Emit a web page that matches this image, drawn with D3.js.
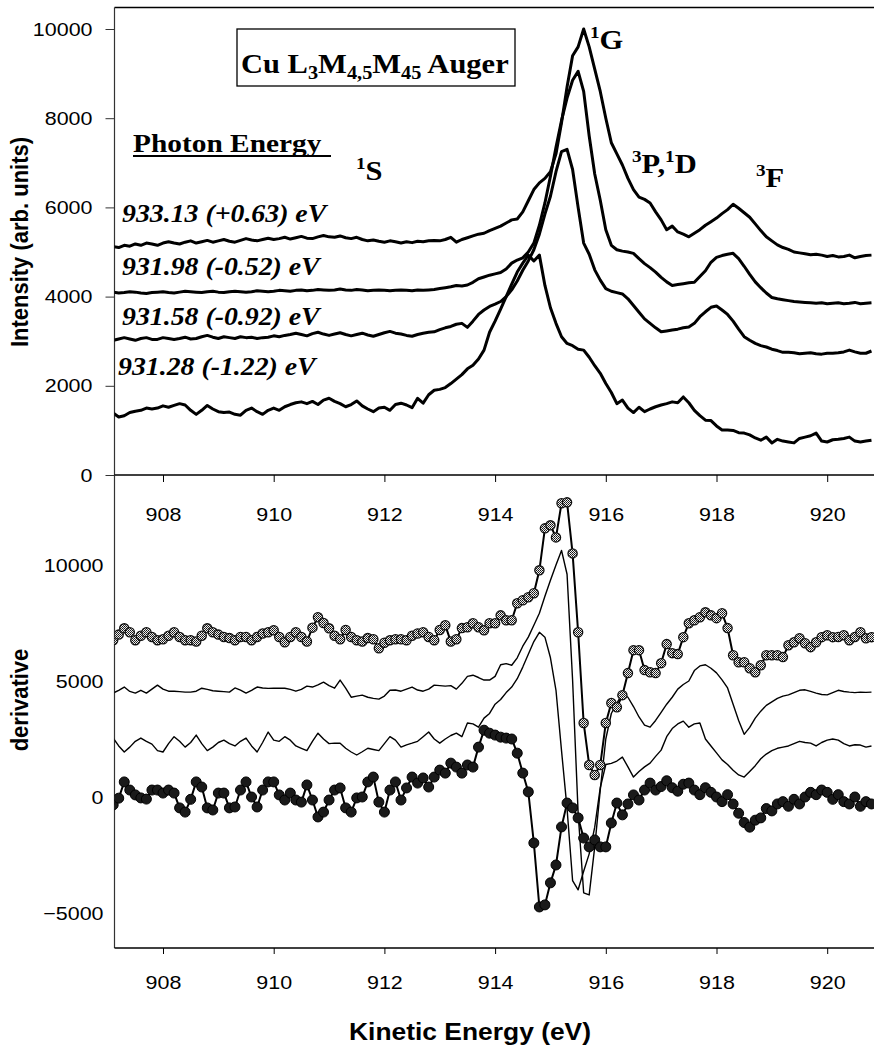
<!DOCTYPE html>
<html><head><meta charset="utf-8">
<script src="https://cdn.jsdelivr.net/npm/d3@7/dist/d3.min.js"></script>
<style>body{margin:0;background:#fff}svg{display:block}</style>
</head><body>
<svg id="c" width="874" height="1059"></svg>
<script>
// ---------- DATA ----------
const energyStart = 907.1, energyStep = 0.1, nPoints = 138;   // kinetic energy grid (eV)
const energy = d3.range(nPoints).map(i => +(energyStart + i * energyStep).toFixed(1));
const xTicks = [908, 910, 912, 914, 916, 918, 920];
const topYTicks = [0, 2000, 4000, 6000, 8000, 10000];
const botYTicks = [-5000, 0, 5000, 10000];
const photonLabels = ["933.13 (+0.63) eV", "931.98 (-0.52) eV", "931.58 (-0.92) eV", "931.28 (-1.22) eV"];

// Auger intensity spectra (top panel)
const int933_13 = [
5120,5100,5150,5130,5180,5150,5200,5180,5150,5200,
5230,5200,5180,5220,5250,5200,5230,5260,5220,5250,
5280,5240,5220,5260,5300,5270,5250,5280,5310,5280,
5300,5330,5290,5320,5350,5310,5300,5340,5370,5340,
5330,5360,5320,5300,5330,5280,5250,5270,5240,5220,
5250,5230,5200,5230,5210,5240,5230,5250,5260,5250,
5280,5330,5220,5280,5320,5360,5400,5420,5480,5530,
5580,5650,5720,5740,5900,6150,6400,6550,6650,6800,
7200,7900,8700,9400,9600,10000,9600,9100,8600,8000,
7450,7200,6950,6650,6400,6230,6180,6100,5900,5720,
5500,5580,5450,5400,5340,5420,5500,5600,5680,5760,
5860,5950,6070,5980,5880,5780,5630,5480,5340,5250,
5160,5100,5060,5000,4980,4960,4940,4950,4930,4900,
4920,4890,4900,4930,4870,4900,4920,4930];
const int931_98 = [
4100,4080,4090,4110,4100,4080,4070,4090,4100,4110,
4090,4080,4100,4120,4110,4100,4090,4110,4120,4100,
4090,4110,4120,4110,4100,4110,4130,4120,4110,4120,
4140,4130,4120,4140,4150,4130,4140,4160,4150,4140,
4150,4170,4150,4140,4160,4150,4130,4140,4150,4140,
4130,4140,4150,4140,4130,4150,4140,4150,4160,4180,
4200,4220,4250,4240,4260,4320,4400,4440,4480,4510,
4540,4620,4750,4820,4870,5000,5200,5600,6100,6700,
7350,7950,8450,8850,9050,8600,7600,6750,6160,5500,
5150,5050,5020,5000,4970,4850,4740,4650,4550,4430,
4330,4250,4270,4290,4310,4320,4450,4580,4770,4880,
4920,4950,4970,4850,4680,4500,4330,4200,4080,3980,
3950,3930,3910,3890,3880,3870,3860,3850,3860,3840,
3850,3860,3840,3850,3870,3840,3850,3860];
const int931_58 = [
3020,3050,3080,3050,3020,3060,3080,3040,3040,3080,
3060,3040,3060,3090,3050,3060,3100,3130,3090,3060,
3100,3080,3060,3100,3080,3090,3060,3080,3090,3120,
3100,3130,3150,3180,3150,3120,3170,3200,3160,3130,
3160,3190,3150,3120,3150,3180,3140,3110,3150,3190,
3220,3180,3160,3130,3110,3150,3180,3200,3210,3260,
3300,3330,3380,3400,3310,3450,3600,3700,3780,3830,
3890,4000,4150,4350,4590,4800,5050,5400,5850,6250,
6800,7250,7300,6850,6000,5200,4950,4600,4370,4180,
4120,4090,4060,3950,3800,3650,3500,3400,3300,3210,
3230,3250,3270,3300,3320,3400,3550,3660,3760,3790,
3700,3600,3450,3270,3100,3020,2950,2900,2870,2820,
2790,2750,2750,2740,2720,2730,2740,2720,2710,2730,
2730,2740,2760,2800,2760,2730,2730,2780];
const int931_28 = [
1390,1300,1330,1400,1430,1450,1500,1480,1500,1550,
1520,1560,1600,1570,1450,1360,1450,1560,1480,1420,
1400,1410,1360,1340,1450,1500,1420,1360,1450,1500,
1450,1530,1580,1620,1640,1600,1650,1580,1680,1720,
1650,1600,1530,1580,1660,1550,1480,1420,1500,1520,
1450,1580,1610,1570,1510,1720,1610,1800,1900,1920,
1960,2050,2150,2250,2380,2460,2600,2800,3200,3450,
3720,4000,4280,4550,4750,4930,4800,4930,4250,3750,
3400,3100,2950,2900,2820,2800,2640,2450,2280,2050,
1850,1600,1680,1500,1400,1520,1420,1480,1530,1570,
1600,1640,1620,1750,1620,1450,1330,1230,1220,1100,
1010,1010,1000,950,940,900,830,780,850,720,
800,760,740,720,820,850,880,940,760,740,
790,800,820,850,760,740,760,780];

// Derivative spectra (bottom panel)
const der933_13 = [
6760,7000,7270,7100,6760,6950,7100,6900,6760,6800,
6950,7100,6900,6760,6760,6700,6950,7270,7100,7000,
6900,6850,6760,6900,6900,6760,6900,7050,7100,7190,
6900,6670,6900,7100,6900,6700,7300,7750,7500,7270,
6950,6800,7200,6900,6760,6700,6850,6800,6410,6650,
6760,6800,6800,6760,6950,7050,7100,6900,6760,7200,
7400,6700,6800,7280,7320,7490,7320,7190,7490,7490,
7830,7620,7620,8350,8480,8610,8780,9770,11580,11710,
11190,12660,12700,10500,7100,3190,1380,950,1380,3190,
4050,3870,4390,5340,6330,6330,5470,5380,5340,5770,
6590,6200,6160,6890,7490,7620,7750,7960,7830,7710,
7920,7280,6110,5810,5810,5550,5380,5680,6110,6110,
6110,6030,6540,6670,6840,6630,6460,6670,6890,6970,
6890,6900,6970,6760,6900,7100,6840,6890];
const der931_98 = [
4480,4600,4740,4550,4480,4600,4480,4650,4820,4650,
4560,4560,4540,4520,4520,4560,4690,4640,4580,4560,
4540,4520,4700,4610,4480,4600,4740,4700,4680,4690,
4690,4690,4640,4560,4640,4780,4740,4830,4950,4800,
4690,5040,4690,4300,4350,4390,4300,4250,4220,4350,
4600,4610,4560,4650,4740,4610,4560,4650,4820,4800,
4780,4800,4650,4900,5200,5250,5150,5040,5040,5200,
5700,5750,5680,6000,6500,6890,7400,7920,8650,9340,
10000,10630,9600,5040,-690,-4130,-4220,-2150,300,2500,
3600,4050,4450,4300,3900,3450,3100,3010,3300,3650,
4000,4300,4650,4850,5000,5450,5650,5700,5550,5350,
5050,4700,4000,3300,2700,3000,3400,3700,3950,4100,
4250,4350,4400,4500,4600,4620,4550,4480,4420,4400,
4500,4600,4550,4520,4500,4520,4510,4520];
const der931_58 = [
2540,2200,1940,2150,2400,2540,2400,2280,2000,1940,
2300,2600,2400,2150,2350,2670,2300,2000,2150,2350,
2450,2300,2200,2400,2540,2200,1940,2350,2800,2450,
2400,2600,2450,2200,2100,2000,2400,2750,2500,2300,
2320,2320,2100,1940,1810,1950,2100,2050,2000,2300,
2600,2450,2150,2250,2320,2400,2600,2800,2500,2320,
2500,2650,2750,2600,3190,3150,3010,3400,3600,4000,
4200,4500,4740,5100,5600,6150,6700,7100,6890,6000,
4600,2000,-500,-3600,-4000,-3200,-2450,-1300,400,1400,
1450,1550,1720,1300,860,1100,1300,1460,1750,2020,
2600,2950,3150,3270,3010,3150,3190,2500,2200,1900,
1600,1400,1150,950,860,1100,1350,1650,1850,2000,
2100,2150,2200,2300,2400,2350,2320,2200,2350,2450,
2500,2450,2300,2200,2250,2240,2150,2200];
const der931_28 = [
-340,-50,650,300,90,-40,-90,300,300,170,
300,170,-470,-650,-100,650,430,-470,-560,170,
170,-470,-430,300,650,0,-430,300,650,650,
90,-130,170,-130,-220,520,-130,-860,-650,-130,
300,390,-470,-650,-40,0,650,860,-220,-650,
300,650,-130,390,860,600,820,430,860,1160,
1030,1460,1290,1030,1380,1290,2150,2880,2750,2670,
2580,2540,2500,1890,1030,220,-1980,-4740,-4650,-3700,
-2930,-1290,-260,-470,-900,-1770,-2150,-1850,-2150,-2150,
-1120,-260,-770,-300,90,-130,300,600,300,450,
700,400,250,550,600,300,100,400,200,0,
-200,100,-300,-700,-1100,-1300,-1000,-900,-500,-600,
-300,-200,-400,-100,-300,0,200,100,300,200,
-100,100,-200,-300,0,-400,-200,-300];

// ---------- DRAW ----------
const svg = d3.select("#c");
const SERIF = "'Liberation Serif','Times New Roman',serif";
const SANS = "'Liberation Sans',Arial,Helvetica,sans-serif";
const SX = 1.13;   // horizontal glyph stretch of the original scan

const L = 114.5, R = 874, T1 = 7.5, B1 = 475, B2 = 948;
const x = d3.scaleLinear().domain([908, 920]).range([163, 827.2]);
const yTop = d3.scaleLinear().domain([0, 10000]).range([B1, 29]);
const yBot = d3.scaleLinear().domain([-5000, 10000]).range([913, 565]);

const defs = svg.append("defs");
defs.append("clipPath").attr("id", "clipTop").append("rect")
  .attr("x", L).attr("y", T1).attr("width", R - L).attr("height", B1 - T1);
defs.append("clipPath").attr("id", "clipBot").append("rect")
  .attr("x", L).attr("y", B1).attr("width", R - L).attr("height", B2 - B1);
const pat = defs.append("pattern").attr("id", "speck").attr("width", 2).attr("height", 2)
  .attr("patternUnits", "userSpaceOnUse");
pat.append("rect").attr("width", 2).attr("height", 2).attr("fill", "#eee");
pat.append("rect").attr("width", 1).attr("height", 1).attr("fill", "#111");
pat.append("rect").attr("x", 1).attr("y", 1).attr("width", 1).attr("height", 1).attr("fill", "#333");

function txt(g, px, py, str, o = {}) {
  const t = g.append("text")
    .attr("transform", `translate(${px},${py}) scale(${o.sx || SX},1)` + (o.rot ? ` rotate(${o.rot})` : ""))
    .attr("font-family", o.ff || SERIF).attr("font-size", o.fs || 26)
    .attr("font-weight", o.fw || "bold").attr("font-style", o.it ? "italic" : "normal")
    .attr("text-anchor", o.anchor || "start").attr("fill", "#000");
  if (typeof str === "string") t.text(str);
  else str.forEach(p => {
    t.append("tspan").text(p.t).attr("font-size", p.fs || (o.fs || 26)).attr("dy", p.dy || 0);
  });
  return t;
}

// ---- frame / axes ----
const ax = svg.append("g");
ax.append("line").attr("x1", L).attr("x2", R).attr("y1", T1).attr("y2", T1).attr("stroke", "#000").attr("stroke-width", 1.5);
ax.append("line").attr("x1", L).attr("x2", L).attr("y1", T1).attr("y2", B2).attr("stroke", "#333").attr("stroke-width", 1.2);

function styleTicks(g) {
  g.selectAll(".tick text").attr("font-family", SANS).attr("font-size", 19).attr("fill", "#000");
  g.select(".domain").remove();
}
const gyTop = svg.append("g").attr("transform", `translate(${L},0)`)
  .call(d3.axisLeft(yTop).tickValues(topYTicks).tickSize(9).tickPadding(13).tickFormat(d3.format("d")));
styleTicks(gyTop);
gyTop.selectAll(".tick line").attr("stroke", "#333");
gyTop.selectAll(".tick text").attr("x", -22 / SX).attr("transform", `scale(${SX},1)`);

ax.append("line").attr("x1", L).attr("x2", R).attr("y1", B1).attr("y2", B1).attr("stroke", "#000").attr("stroke-width", 1.5);
const gxTop = svg.append("g").attr("transform", `translate(0,${B1})`)
  .call(d3.axisBottom(x).tickValues(xTicks).tickSize(7).tickPadding(26).tickFormat(d3.format("d")));
styleTicks(gxTop);
gxTop.selectAll(".tick text").attr("transform", `scale(${SX},1)`);

const gyBot = svg.append("g").attr("transform", `translate(${L},0)`)
  .call(d3.axisLeft(yBot).tickValues(botYTicks).tickSize(0).tickPadding(11).tickFormat(d3.format("d")));
styleTicks(gyBot);
gyBot.selectAll(".tick text").attr("x", -11 / SX).attr("transform", `scale(${SX},1)`);

ax.append("line").attr("x1", L).attr("x2", R).attr("y1", B2).attr("y2", B2).attr("stroke", "#000").attr("stroke-width", 1.3);
const gxBot = svg.append("g").attr("transform", `translate(0,${B2})`)
  .call(d3.axisBottom(x).tickValues(xTicks).tickSize(6).tickPadding(22).tickFormat(d3.format("d")));
styleTicks(gxBot);
gxBot.selectAll(".tick text").attr("transform", `scale(${SX},1)`);

// ---- top panel curves ----
const topSeries = [int933_13, int931_98, int931_58, int931_28];
const gTop = svg.append("g").attr("clip-path", "url(#clipTop)");
const lineTop = d3.line().x((d, i) => x(energy[i])).y(d => yTop(d));
topSeries.forEach(s => {
  gTop.append("path").datum(s).attr("d", lineTop).attr("fill", "none")
    .attr("stroke", "#000").attr("stroke-width", 3).attr("stroke-linejoin", "round");
});

// ---- bottom panel ----
const gBot = svg.append("g").attr("clip-path", "url(#clipBot)");
const lineBot = d3.line().x((d, i) => x(energy[i])).y(d => yBot(d));
[der931_98, der931_58].forEach(s => {
  gBot.append("path").datum(s).attr("d", lineBot).attr("fill", "none")
    .attr("stroke", "#000").attr("stroke-width", 1.4).attr("stroke-linejoin", "round");
});
gBot.append("path").datum(der933_13).attr("d", lineBot).attr("fill", "none")
  .attr("stroke", "#000").attr("stroke-width", 2);
gBot.selectAll("circle.o").data(der933_13).join("circle").attr("class", "o")
  .attr("cx", (d, i) => x(energy[i])).attr("cy", d => yBot(d)).attr("r", 4.6)
  .attr("fill", "url(#speck)").attr("stroke", "#111").attr("stroke-width", 1.3);
gBot.append("path").datum(der931_28).attr("d", lineBot).attr("fill", "none")
  .attr("stroke", "#000").attr("stroke-width", 2);
gBot.selectAll("circle.f").data(der931_28).join("circle").attr("class", "f")
  .attr("cx", (d, i) => x(energy[i])).attr("cy", d => yBot(d)).attr("r", 5)
  .attr("fill", "#1a1a1a").attr("stroke", "#000").attr("stroke-width", 1);

// ---- annotations ----
const an = svg.append("g");
an.append("rect").attr("x", 237).attr("y", 29).attr("width", 278).attr("height", 57)
  .attr("fill", "#fff").attr("stroke", "#000").attr("stroke-width", 1.3);
txt(an, 241, 73, [
  {t: "Cu L"}, {t: "3", fs: 18, dy: 6}, {t: "M", dy: -6}, {t: "4,5", fs: 18, dy: 6},
  {t: "M", dy: -6}, {t: "45", fs: 18, dy: 6}, {t: " Auger", dy: -6}], {fs: 27});

txt(an, 133, 152, "Photon Energy", {fs: 26});
an.append("line").attr("x1", 133).attr("x2", 331).attr("y1", 156).attr("y2", 156)
  .attr("stroke", "#000").attr("stroke-width", 2);

const labelPos = [[122, 222], [122, 275], [122, 325], [118, 375]];
photonLabels.forEach((s, i) => txt(an, labelPos[i][0], labelPos[i][1], s, {fs: 26, it: true, sx: 1.07}));

txt(an, 356, 180, [{t: "1", fs: 17, dy: -11}, {t: "S", dy: 11}], {fs: 27});
txt(an, 590, 49, [{t: "1", fs: 17, dy: -11}, {t: "G", dy: 11}], {fs: 27});
txt(an, 632, 173, [{t: "3", fs: 17, dy: -11}, {t: "P,", dy: 11}, {t: "1", fs: 17, dy: -11}, {t: "D", dy: 11}], {fs: 27});
txt(an, 756, 187, [{t: "3", fs: 17, dy: -11}, {t: "F", dy: 11}], {fs: 27});

// axis titles
txt(an, 28, 242, "Intensity (arb. units)", {ff: SANS, fs: 22, anchor: "middle", rot: -90, sx: 1.1});
txt(an, 28, 700, "derivative", {ff: SANS, fs: 22, anchor: "middle", rot: -90, sx: 1.1});
txt(an, 470, 1040, "Kinetic Energy (eV)", {ff: SANS, fs: 24, anchor: "middle", sx: 1.1});
</script>
</body></html>
